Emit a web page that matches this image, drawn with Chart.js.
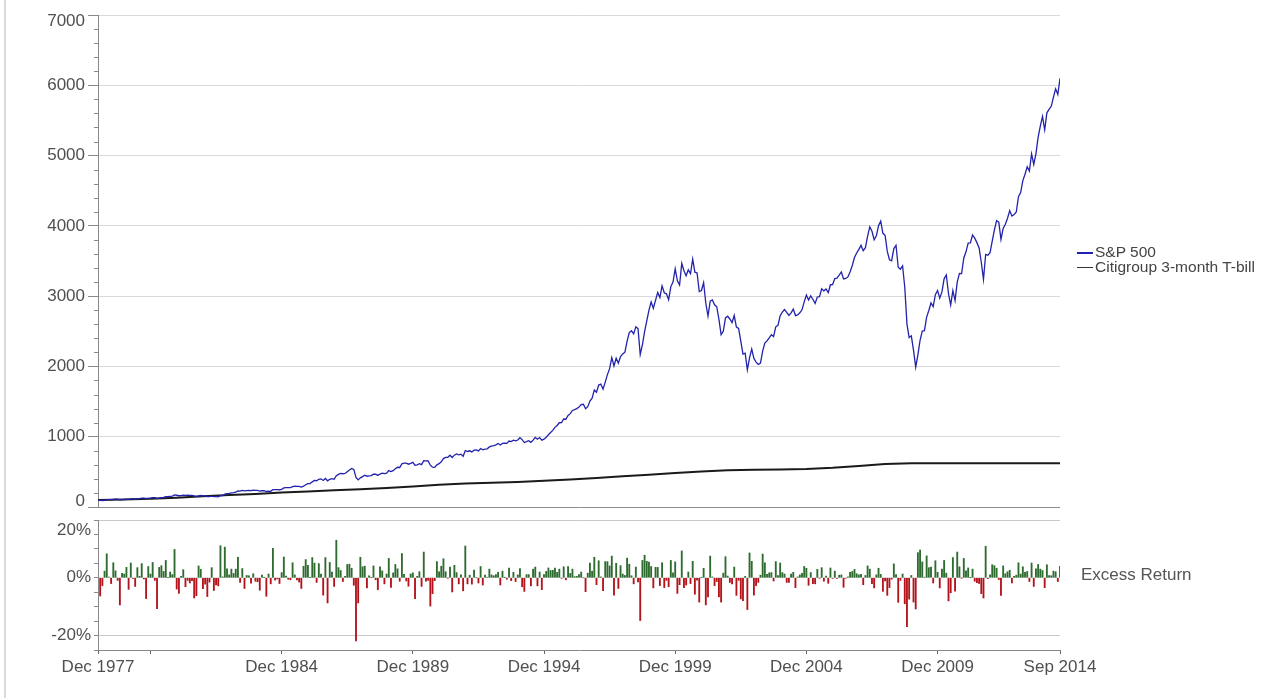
<!DOCTYPE html>
<html><head><meta charset="utf-8">
<script src="https://cdn.jsdelivr.net/npm/chart.js@4.4.1/dist/chart.umd.min.js"></script>
<style>
html,body{margin:0;padding:0;background:#fff;width:1278px;height:698px;overflow:hidden;font-family:'Liberation Sans',Arial,sans-serif}
#frame{position:absolute;left:4px;top:0;width:2px;height:698px;background:#dadada}
#top{position:absolute;left:0;top:0}
#bot{position:absolute;left:0;top:497px}
.leg{position:absolute;left:1077px;font-size:15.5px;color:#444;white-space:nowrap;line-height:15px}
.leg i{display:inline-block;width:16px;height:2px;vertical-align:middle;margin-right:2px}
#ex{position:absolute;left:1081px;top:565px;font-size:17px;color:#555;line-height:20px}
</style></head><body>
<div id="frame"></div>
<canvas id="top" width="1278" height="522"></canvas>
<canvas id="bot" width="1278" height="201"></canvas>
<div class="leg" style="top:244px"><i style="background:#2222ad"></i>S&amp;P 500</div>
<div class="leg" style="top:259px"><i style="background:#333;height:1px"></i>Citigroup 3-month T-bill</div>
<div id="ex">Excess Return</div>
<script>
// ---------------- data ----------------
const xTickIdx = [0, 24, 84, 144, 204, 264, 324, 384, 440];
const xTickLabels = ['Dec 1977', '', 'Dec 1984', 'Dec 1989', 'Dec 1994', 'Dec 1999', 'Dec 2004', 'Dec 2009', 'Sep 2014'];
const topYLabels = [0, 1000, 2000, 3000, 4000, 5000, 6000, 7000];
const botYLabels = [-20, 0, 20];

// S&P 500 growth of 100, monthly, Dec 1977 .. Aug 2014
const sp500 = [100,
94.2,92.3,95.1,103.7,104.5,103.2,109.2,112.6,112.3,102.5,104.5,106.6,
111.3,107.7,114.2,114.9,112.4,117.2,118.8,125.6,126.2,118.0,123.6,126.2,
134.0,134.0,121.0,126.5,132.9,137.1,146.6,148.1,152.6,155.6,172.3,167.1,
160.3,163.0,169.7,166.4,166.9,166.0,166.3,156.7,148.8,156.9,163.2,159.1,
157.0,148.3,147.5,154.0,148.7,146.4,143.7,161.1,163.0,182.0,189.4,193.1,
200.2,204.8,212.5,229.2,227.2,236.0,229.0,232.5,235.8,233.1,238.0,236.7,
235.5,227.3,231.1,233.4,220.4,225.2,222.4,247.0,247.0,248.0,245.2,251.7,
271.2,274.7,274.8,274.4,290.4,294.9,294.4,292.0,282.8,295.7,316.2,331.5,
333.3,358.1,378.2,374.0,393.8,400.6,378.3,406.2,372.7,394.3,403.7,393.5,
446.5,464.4,477.8,473.5,477.5,501.9,527.4,547.1,535.2,420.0,385.1,414.1,
432.1,451.8,438.0,443.5,446.2,467.1,466.0,449.3,468.5,482.3,474.6,483.0,
518.8,505.2,517.2,544.6,565.4,562.5,613.9,625.2,622.9,608.9,620.7,635.8,
594.0,600.7,617.3,602.4,660.0,655.9,654.6,594.8,565.9,563.9,599.3,616.2,
643.5,688.6,705.8,707.9,737.2,703.7,737.6,754.1,741.6,752.3,721.2,803.7,
789.8,799.4,784.0,807.9,810.8,798.7,831.9,814.0,823.5,827.3,854.5,865.3,
873.6,884.5,903.3,882.6,904.4,907.4,904.8,937.8,930.7,951.1,940.7,952.5,
985.9,958.6,916.9,929.8,943.6,920.5,951.3,989.5,965.2,987.7,950.9,964.9,
990.7,1028.4,1059.0,1090.7,1133.0,1159.8,1198.9,1201.3,1251.8,1248.5,1302.2,1327.9,
1373.8,1385.9,1399.4,1420.9,1456.0,1462.0,1397.6,1426.6,1506.6,1548.8,1665.4,1632.6,
1735.1,1748.5,1676.3,1776.6,1884.0,1968.6,2125.2,2006.7,2116.2,2046.0,2141.0,2177.6,
2202.7,2361.0,2481.1,2507.0,2463.1,2563.6,2537.2,2170.2,2307.6,2496.2,2647.3,2800.2,
2917.6,2827.1,2939.4,3053.6,2981.2,3146.3,3048.1,3033.0,2949.0,3136.1,3200.0,3388.1,
3218.4,3157.8,3466.2,3362.4,3291.5,3374.7,3322.4,3527.1,3341.3,3329.1,3065.1,3080.2,
3191.0,2899.0,2716.3,2927.5,2946.2,2876.2,2847.6,2668.4,2452.5,2500.0,2690.2,2714.1,
2675.2,2624.1,2723.9,2559.8,2539.8,2359.7,2176.0,2189.4,1951.0,2123.2,2247.1,2114.2,
2059.7,2027.2,2047.5,2217.1,2332.9,2363.2,2405.5,2451.5,2426.2,2563.7,2585.2,2720.9,
2772.4,2809.7,2768.2,2725.1,2762.5,2815.6,2723.5,2733.0,2763.0,2805.2,2918.1,3016.5,
2944.9,3005.4,2952.7,2896.8,2988.3,2992.6,3105.2,3075.2,3101.5,3050.1,3162.4,3164.4,
3250.1,3256.7,3297.9,3343.4,3245.1,3251.7,3273.4,3348.2,3435.8,3549.6,3613.6,3664.9,
3722.2,3646.5,3688.6,3854.2,3985.7,3922.2,3802.6,3857.4,4001.6,4067.1,3893.9,3866.2,
3636.6,3518.2,3503.8,3677.3,3723.6,3411.2,3383.9,3431.6,3125.8,2602.1,2411.8,2435.2,
2231.5,1989.9,2164.6,2372.3,2503.7,2508.8,2700.8,2796.5,2902.7,2850.6,3020.7,3079.9,
2971.4,3060.5,3246.3,3300.2,3034.0,2875.7,3079.0,2937.1,3199.9,3323.8,3320.9,3544.0,
3630.7,3753.4,3756.1,3869.9,3824.4,3761.2,3685.6,3482.4,3238.1,3593.2,3581.3,3618.1,
3783.7,3944.1,4076.1,4052.5,3806.5,3963.9,4022.1,4108.6,4216.8,4140.5,4160.7,4197.3,
4416.4,4474.4,4643.2,4735.2,4841.7,4778.7,5023.5,4874.4,5027.8,5262.6,5419.2,5556.2,
5367.4,5608.1,5656.3,5700.8,5830.3,5949.3,5869.2,6100.3];

// Citigroup 3-month T-bill growth of 100 (month index, value)
const tbillIdx = [0,12,24,36,48,60,72,84,96,108,120,132,144,156,168,180,192,204,216,228,240,252,264,276,288,300,312,324,336,348,360,372,384,396,408,420,432,440];
const tbill = [100,107.5,119,133,153,170,186,205,222,237,252,269,292,315,333,345,356,372,393,414,436,458,482,505,522,530,535,541,557,584,611,621,622,622,623,623,623,623];

// Monthly excess return (%), S&P 500 minus T-bill
const excess = [null,
-6.3,-2.7,2.3,8.3,0.2,-2.0,5.2,2.4,-0.9,-9.4,1.5,1.3,
3.6,-4.0,5.1,-0.2,-3.0,3.5,0.5,4.9,-0.4,-7.2,3.9,1.3,
5.3,-0.9,-10.7,3.6,4.2,2.2,6.0,0.1,2.0,1.1,9.8,-3.9,
-5.4,0.5,2.8,-3.1,-0.9,-1.8,-1.0,-7.0,-6.2,4.1,2.9,-3.8,
-2.2,-6.5,-1.5,3.5,-4.4,-2.5,-2.8,11.1,0.3,10.6,3.1,1.0,
3.0,1.5,3.0,7.1,-1.6,3.2,-3.7,0.8,0.7,-1.9,1.4,-1.2,
-1.4,-4.3,0.9,0.1,-6.4,1.3,-2.1,10.2,-0.8,-0.4,-2.0,1.8,
7.2,0.6,-0.5,-0.7,5.2,1.0,-0.7,-1.5,-3.7,4.0,6.3,4.3,
0.1,7.0,5.1,-1.6,4.9,1.3,-6.0,7.0,-8.7,5.3,2.0,-3.0,
13.0,3.5,2.5,-1.3,0.5,4.6,4.7,3.3,-2.6,-21.9,-8.7,7.1,
3.8,4.0,-3.5,0.7,0.1,4.1,-0.7,-4.1,3.8,2.4,-2.1,1.3,
6.7,-3.3,1.7,4.6,3.1,-1.2,8.4,1.2,-1.1,-2.9,1.3,1.7,
-7.2,0.5,2.1,-3.0,8.9,-1.2,-0.9,-9.8,-5.5,-1.0,5.6,2.1,
4.0,6.6,2.1,-0.1,3.7,-4.9,4.3,1.8,-2.1,1.0,-4.5,11.0,
-2.1,0.9,-2.2,2.7,0.0,-1.8,3.9,-2.5,0.9,0.2,3.0,1.0,
0.7,1.1,1.9,-2.5,2.3,0.1,-0.5,3.4,-1.0,1.9,-1.3,1.0,
3.2,-3.1,-4.7,1.1,1.1,-2.8,3.0,3.7,-2.8,2.0,-4.1,1.1,
2.2,3.4,2.5,2.6,3.4,1.9,3.0,-0.2,3.8,-0.7,3.9,1.5,
3.0,0.4,0.5,1.1,2.0,0.0,-4.8,1.6,5.1,2.3,7.1,-2.4,
5.9,0.3,-4.5,5.6,5.6,4.1,7.5,-6.0,5.0,-3.7,4.2,1.3,
0.8,6.8,4.7,0.7,-2.1,3.7,-1.4,-14.8,6.0,7.8,5.7,5.4,
3.9,-3.5,3.6,3.6,-2.7,5.2,-3.4,-0.9,-3.1,6.0,1.7,5.5,
-5.4,-2.4,9.3,-3.4,-2.5,2.0,-2.0,5.7,-5.7,-0.8,-8.4,0.1,
3.3,-9.4,-6.6,7.5,0.3,-2.7,-1.3,-6.6,-8.4,1.6,7.3,0.6,
-1.6,-2.1,3.7,-6.1,-0.9,-7.3,-7.9,0.5,-11.0,8.6,5.7,-6.0,
-2.7,-1.6,0.9,8.2,5.2,1.2,1.7,1.8,-1.1,5.6,0.8,5.1,
1.8,1.3,-1.6,-1.6,1.3,1.9,-3.4,0.3,1.0,1.5,3.9,3.3,
-2.6,1.8,-2.0,-2.1,2.9,-0.1,3.5,-1.2,0.6,-1.9,3.4,-0.2,
2.3,-0.2,0.9,1.0,-3.3,-0.2,0.3,1.9,2.2,2.9,1.4,1.0,
1.2,-2.4,0.8,4.1,3.0,-2.0,-3.5,1.0,3.3,1.2,-4.7,-1.1,
-6.1,-3.4,-0.5,4.8,1.1,-8.5,-0.9,1.3,-9.0,-16.9,-7.4,0.8,
-8.4,-10.8,8.7,9.6,5.5,0.2,7.6,3.5,3.7,-1.8,5.9,1.9,
-3.5,3.0,6.0,1.6,-8.0,-5.2,7.0,-4.6,8.9,3.8,-0.1,6.7,
2.4,3.4,0.1,3.0,-1.2,-1.7,-2.0,-5.5,-7.0,10.9,-0.3,1.0,
4.5,4.2,3.3,-0.6,-6.1,4.1,1.4,2.1,2.6,-1.8,0.5,0.9,
5.2,1.3,3.8,1.9,2.2,-1.3,5.1,-3.0,3.1,4.6,3.0,2.5,
-3.4,4.5,0.8,0.7,2.3,2.1,-1.3,4.0];

// ---------------- styling / charts ----------------
const FONT = "'Liberation Sans', Arial, sans-serif";
const TXT = '#505050';
const X_MAX = sp500.length - 1;

const minorTicks = {
  id: 'minorTicks',
  afterDraw(chart, args, opts) {
    const s = chart.scales.y, ctx = chart.ctx;
    ctx.save();
    ctx.strokeStyle = opts.color; ctx.lineWidth = 1;
    for (let v = s.min; v <= s.max; v += opts.step) {
      if (opts.skip(v)) continue;
      const y = Math.round(s.getPixelForValue(v)) + 0.5;
      ctx.beginPath(); ctx.moveTo(s.right - opts.len, y); ctx.lineTo(s.right, y); ctx.stroke();
    }
    ctx.restore();
  }
};

new Chart(document.getElementById('top'), {
  type: 'line',
  data: {
    datasets: [
      { label: 'S&P 500', data: sp500.map((v, i) => ({ x: i, y: v })),
        borderColor: '#2222ad', borderWidth: 1.3, pointRadius: 0, tension: 0 },
      { label: 'Citigroup 3-month T-bill', data: tbill.map((v, i) => ({ x: tbillIdx[i], y: v })),
        borderColor: '#1a1a1a', borderWidth: 2, pointRadius: 0, tension: 0 }
    ]
  },
  options: {
    responsive: false, animation: false, devicePixelRatio: 1,
    layout: { padding: { left: 0, right: 218, top: 12, bottom: 12 } },
    plugins: {
      legend: { display: false }, tooltip: { enabled: false },
      minorTicks: { step: 200, len: 4, color: '#888', skip: v => v % 1000 === 0 }
    },
    scales: {
      x: { type: 'linear', min: 0, max: X_MAX, display: false },
      y: {
        min: 0, max: 7000,
        afterBuildTicks: s => { s.ticks = topYLabels.map(v => ({ value: v })); },
        afterFit: s => { s.width = 98; },
        ticks: {
          autoSkip: false, color: TXT, padding: 3,
          font: { family: FONT, size: 17, lineHeight: '12px' },
          callback: v => v === 7000 ? ['', '7000'] : (v === 0 ? ['0', ''] : String(v))
        },
        grid: {
          color: c => c.tick.value === 0 ? '#8c8c8c' : '#d9d9d9',
          tickColor: '#888', tickLength: 10, lineWidth: 1
        },
        border: { color: '#888' }
      }
    }
  },
  plugins: [minorTicks]
});

new Chart(document.getElementById('bot'), {
  type: 'bar',
  data: {
    datasets: [{
      label: 'Excess Return',
      data: excess.map((v, i) => ({ x: i, y: v })),
      backgroundColor: c => (c.raw && c.raw.y < 0) ? '#b3141c' : '#2e6b2f',
      borderWidth: 0, barThickness: 1.2
    }]
  },
  options: {
    responsive: false, animation: false, devicePixelRatio: 1,
    layout: { padding: { left: 0, right: 218, top: 0, bottom: 12 } },
    plugins: { legend: { display: false }, tooltip: { enabled: false } },
    scales: {
      x: {
        type: 'linear', min: 0, max: X_MAX, offset: false,
        afterBuildTicks: s => { s.ticks = xTickIdx.map(v => ({ value: v })); },
        afterFit: s => { s.height = 36; },
        ticks: {
          autoSkip: false, maxRotation: 0, color: TXT, padding: 3,
          font: { family: FONT, size: 17 },
          callback: (v, i) => xTickLabels[i]
        },
        grid: { offset: false, drawOnChartArea: false, tickLength: 4, tickColor: '#666' },
        border: { color: '#888' }
      },
      y: {
        min: -25, max: 20,
        afterBuildTicks: s => { const t = []; for (let v = -25; v <= 20; v += 5) t.push({ value: v }); s.ticks = t; },
        afterFit: s => { s.width = 98; },
        ticks: {
          autoSkip: false, color: TXT, padding: 3,
          font: { family: FONT, size: 17, lineHeight: '20px' },
          callback: v => botYLabels.includes(v) ? (v === 20 ? ['', '20%'] : v + '%') : ''
        },
        grid: {
          color: c => c.tick.value === 20 || c.tick.value === -20 ? '#c8c8c8' : (c.tick.value === 0 ? '#e2e2e2' : 'rgba(0,0,0,0)'),
          tickColor: '#888', tickLength: 4
        },
        border: { color: '#888' }
      }
    }
  }
});
</script>
</body></html>
